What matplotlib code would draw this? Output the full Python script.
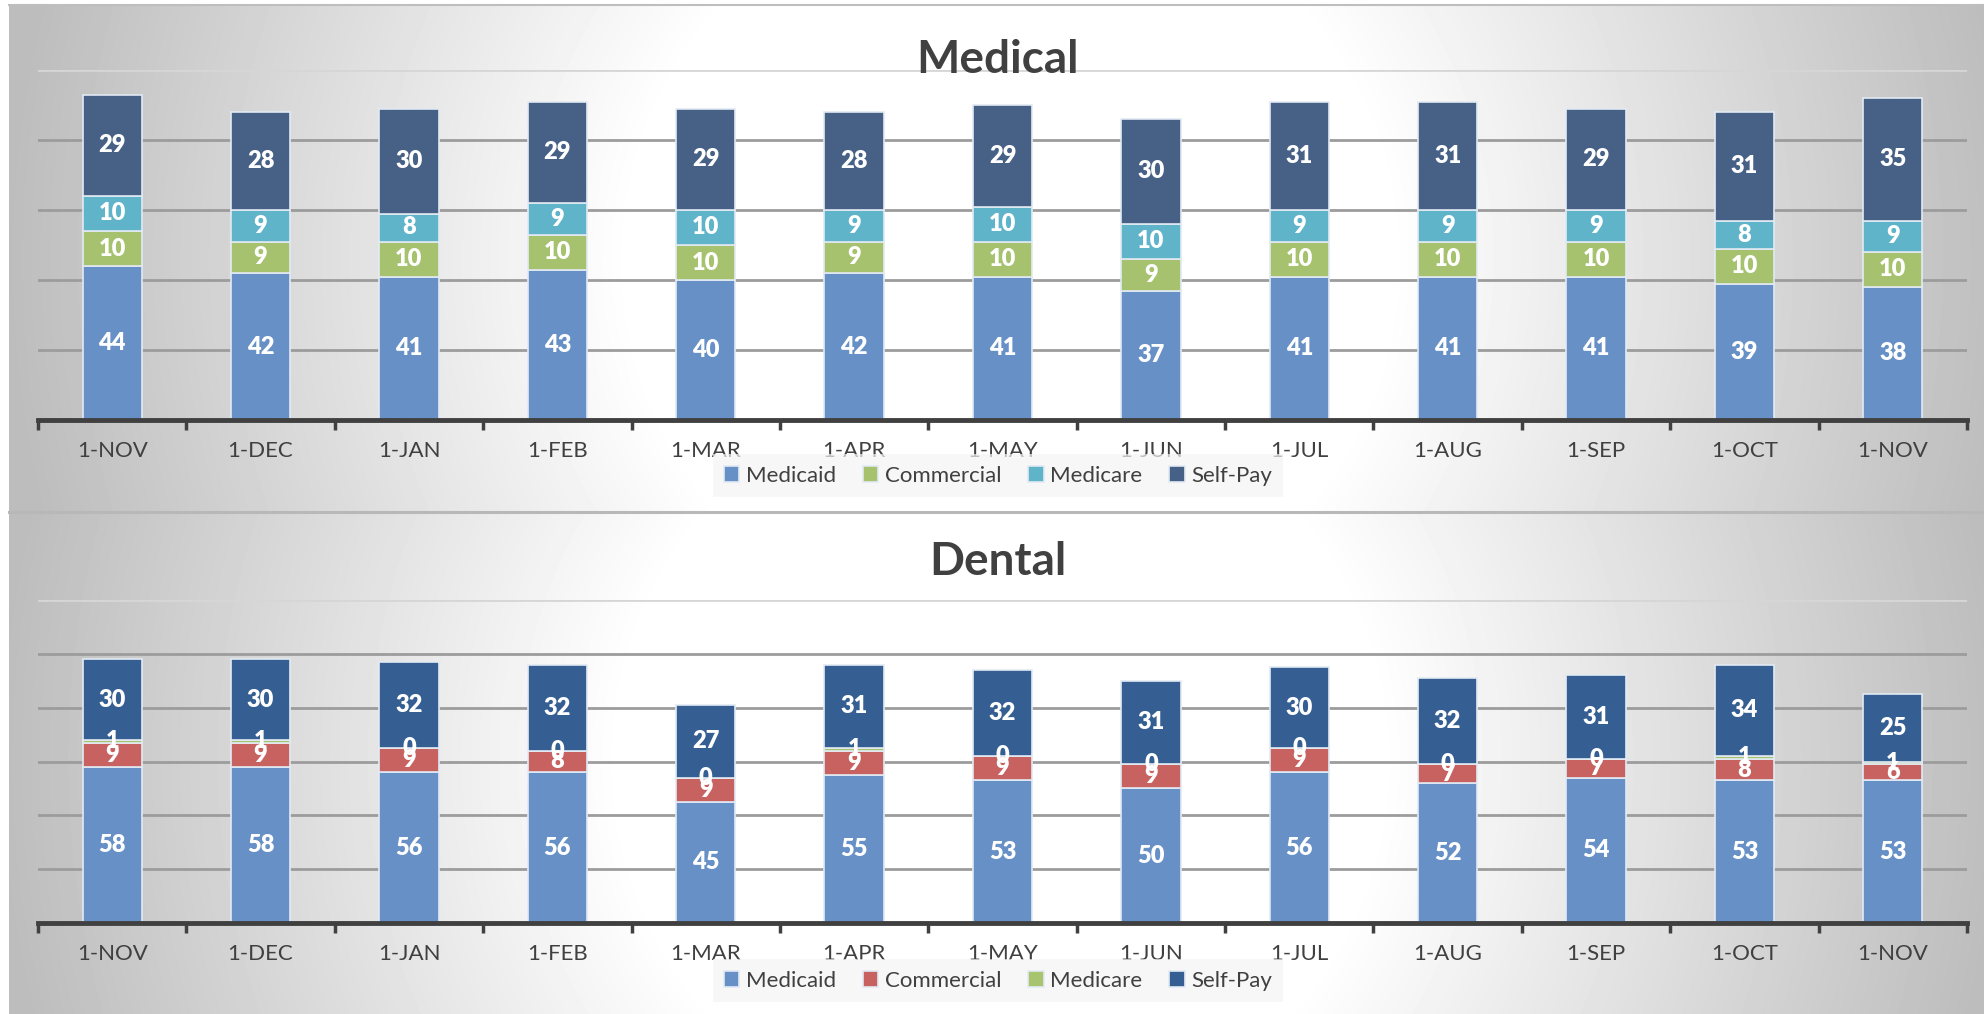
"""
Mix of payers per month, medical vs dental visits.
"""
import numpy as np
import matplotlib.pyplot as plt

plt.rcParams['font.family'] = ['Lato', 'DejaVu Sans']

months = ['1-NOV', '1-DEC', '1-JAN', '1-FEB', '1-MAR', '1-APR', '1-MAY',
          '1-JUN', '1-JUL', '1-AUG', '1-SEP', '1-OCT', '1-NOV']
payers = ['Medicaid', 'Commercial', 'Medicare', 'Self-Pay']

# Medical (%)
medical_medicaid = [44, 42, 41, 43, 40, 42, 41, 37, 41, 41, 41, 39, 38]
medical_commercial = [10, 9, 10, 10, 10, 9, 10, 9, 10, 10, 10, 10, 10]
medical_medicare = [10, 9, 8, 9, 10, 9, 10, 10, 9, 9, 9, 8, 9]
medical_selfpay = [29, 28, 30, 29, 29, 28, 29, 30, 31, 31, 29, 31, 35]

# Dental (%)
dental_medicaid = [58, 58, 56, 56, 45, 55, 53, 50, 56, 52, 54, 53, 53]
dental_commercial = [9, 9, 9, 8, 9, 9, 9, 9, 9, 7, 7, 8, 6]
dental_medicare = [1, 1, 0, 0, 0, 1, 0, 0, 0, 0, 0, 1, 1]
dental_selfpay = [30, 30, 32, 32, 27, 31, 32, 31, 30, 32, 31, 34, 25]

TXT = '#404040'

W, H = 1984, 1014
fig = plt.figure(figsize=(W / 100, H / 100), dpi=100)

# fondo: degradado radial en cada panel
bg = fig.add_axes([0, 0, 1, 1])
yy, xx = np.mgrid[0:H, 0:W]


def radial(cx, cy):
    r = np.hypot(xx - cx, yy - cy)
    return 255 - 66 * np.clip((r - 380) / 620, 0, 1)


img = np.where(yy < 512, radial(1010, 260), radial(1000, 760))
img[:, :9] = 255
img[:4, :] = 255
bg.imshow(img, cmap='gray', vmin=0, vmax=255, extent=[0, W, H, 0],
          aspect='auto', interpolation='bilinear')
bg.plot([9, W], [4.5, 4.5], color='#BEBEBE', lw=1.5)
bg.plot([9, W], [512, 512], color='#B8B8B8', lw=2.2)
bg.set_xlim(0, W)
bg.set_ylim(H, 0)
bg.axis('off')


def stacked_chart(rect, title, title_y, title_size, legend_y, series, colors, ymax):
    ax = fig.add_axes(rect)
    ax.set_facecolor('none')
    x = np.arange(len(months))
    bottom = np.zeros(len(months))
    handles = []
    for name, vals, col in zip(payers, series, colors):
        vals = np.array(vals, dtype=float)
        bars = ax.bar(x, vals, 0.4, bottom=bottom, color=col,
                      edgecolor='#E2EAF3', linewidth=1.2, zorder=3, label=name)
        ax.bar_label(bars, labels=[str(int(v)) for v in vals],
                     label_type='center', color='white', fontweight='heavy',
                     fontsize=17, zorder=5)
        handles.append(bars)
        bottom += vals

    # líneas de la cuadrícula
    grid_vals = np.arange(20, ymax + 1, 20)
    for g in grid_vals:
        c = '#D6D6D6' if g == ymax else '#9C9C9C'
        ax.axhline(g, color=c, lw=2, zorder=1)

    ax.set_xlim(-0.5, len(months) - 0.5)
    ax.set_ylim(0, ymax)
    ax.set_yticks([])
    for s in ['top', 'left', 'right']:
        ax.spines[s].set_visible(False)
    ax.spines['bottom'].set_color(TXT)
    ax.spines['bottom'].set_linewidth(3.5)
    ax.spines['bottom'].set_zorder(6)

    ax.set_xticks(np.arange(-0.5, len(months)), labels=[''] * (len(months) + 1))
    ax.tick_params(axis='x', which='major', direction='out', length=7,
                   width=2.5, color=TXT)
    ax.set_xticks(x, labels=months, minor=True)
    ax.tick_params(axis='x', which='minor', length=0, pad=15,
                   labelsize=16, labelcolor=TXT)

    fig.text(0.503, title_y, title, ha='center', va='center',
             fontsize=title_size, fontweight='bold', color=TXT)
    leg = fig.legend(handles=handles, labels=payers, loc='center',
                     bbox_to_anchor=(0.503, legend_y), ncol=4, frameon=True,
                     fontsize=16, handlelength=0.7, handleheight=0.7,
                     handletextpad=0.3, columnspacing=1.2, borderpad=0.5,
                     labelcolor=TXT)
    leg.get_frame().set_facecolor('#F4F4F4')
    leg.get_frame().set_alpha(0.7)
    leg.get_frame().set_edgecolor('none')
    leg.get_frame().set_boxstyle('square', pad=0)
    return ax


stacked_chart([38 / W, 1 - 420 / H, 1929 / W, 350 / H], 'Medical', 0.941, 33, 0.531,
              [medical_medicaid, medical_commercial, medical_medicare, medical_selfpay],
              ['#6690C6', '#A6C26E', '#60B4CA', '#466086'], 100)

stacked_chart([38 / W, 1 - 923 / H, 1929 / W, 323 / H], 'Dental', 0.446, 33, 0.033,
              [dental_medicaid, dental_commercial, dental_medicare, dental_selfpay],
              ['#6690C6', '#C86260', '#A8C46F', '#355F92'], 120)

fig.savefig('out.png', dpi=100)
